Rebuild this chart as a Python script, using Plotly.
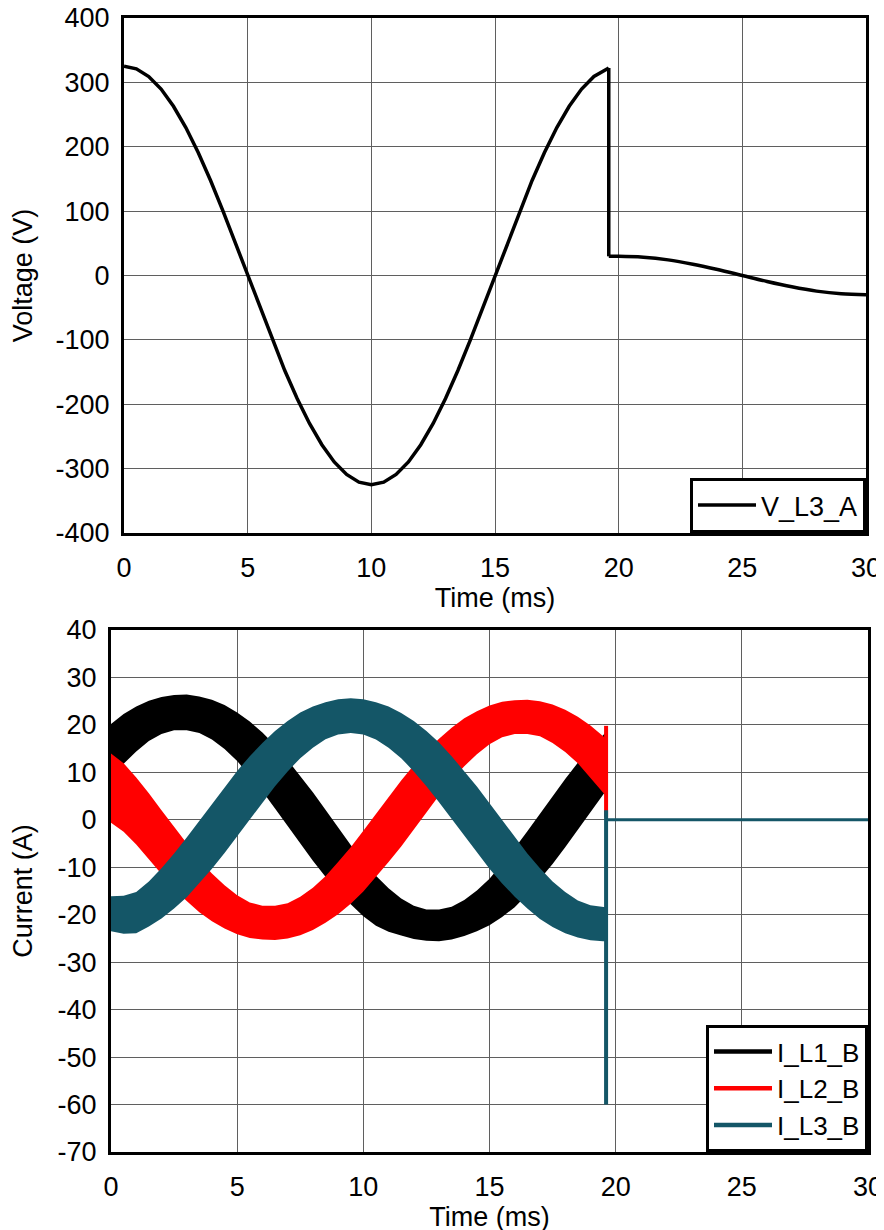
import plotly.graph_objects as go

# ---------------- data ----------------
# Voltage V_L3_A (V) vs time (ms)
v_time_a = [0, 0.5, 1, 1.5, 2, 2.5, 3, 3.5, 4, 4.5, 5, 5.5, 6, 6.5, 7, 7.5, 8, 8.5, 9, 9.5,
            10, 10.5, 11, 11.5, 12, 12.5, 13, 13.5, 14, 14.5, 15, 15.5, 16, 16.5, 17, 17.5,
            18, 18.5, 19, 19.5, 19.6]
v_vals_a = [325, 321.0, 309.1, 289.6, 262.9, 229.8, 191.0, 147.6, 100.4, 50.8, 0, -50.8,
            -100.4, -147.6, -191.0, -229.8, -262.9, -289.6, -309.1, -321.0, -325, -321.0,
            -309.1, -289.6, -262.9, -229.8, -191.0, -147.6, -100.4, -50.8, 0, 50.8, 100.4,
            147.6, 191.0, 229.8, 262.9, 289.6, 309.1, 321.0, 322.4]
v_time_b = [19.6, 20, 21, 22, 23, 24, 25, 26, 27, 28, 29, 30]
v_vals_b = [29.8, 30, 28.5, 24.3, 17.6, 9.3, 0, -9.3, -17.6, -24.3, -28.5, -30]

# Phase currents (A): upper and lower edge of the ripple band
i_time = [0, 0.5, 1, 1.5, 2, 2.5, 3, 3.5, 4, 4.5, 5, 5.5, 6, 6.5, 7, 7.5, 8, 8.5, 9, 9.5,
          10, 10.5, 11, 11.5, 12, 12.5, 13, 13.5, 14, 14.5, 15, 15.5, 16, 16.5, 17, 17.5,
          18, 18.5, 19, 19.5, 19.6]
l1_upper = [20.2, 22.3, 23.9, 25.1, 25.9, 26.3, 26.4, 26.0, 25.3, 24.2, 22.6, 20.7, 18.4, 15.7,
            12.6, 9.3, 5.8, 2.1, -1.6, -5.3, -8.7, -11.8, -14.4, -16.6, -18.1, -18.9, -18.9,
            -18.3, -16.9, -14.9, -12.4, -9.3, -6.0, -2.4, 1.3, 5.0, 8.6, 12.0, 15.1, 17.8, 18.4]
l1_lower = [8.7, 11.8, 14.4, 16.6, 18.1, 18.9, 18.9, 18.3, 16.9, 14.9, 12.4, 9.3, 6.0, 2.4, -1.3,
            -5.0, -8.6, -12.0, -15.1, -17.8, -20.3, -22.3, -23.6, -24.4, -25.1, -25.5, -25.6,
            -25.2, -24.5, -23.5, -22.2, -20.5, -18.4, -15.7, -12.6, -9.3, -5.8, -2.1, 1.6, 5.3, 6.0]
l2_upper = [14.0, 11.9, 8.9, 5.6, 2.0, -1.5, -5.1, -8.4, -11.3, -13.8, -15.9, -17.4, -18.1, -18.1,
            -17.6, -16.2, -14.3, -11.9, -8.9, -5.8, -2.3, 1.2, 4.8, 8.3, 11.5, 14.5, 17.1, 19.4,
            21.4, 22.9, 24.1, 24.9, 25.2, 25.3, 25.0, 24.3, 23.2, 21.7, 19.9, 17.7, 17.2]
l2_lower = [-0.6, -2.5, -5.2, -8.3, -11.5, -14.5, -17.1, -19.5, -21.4, -22.9, -24.1, -24.9, -25.2,
            -25.3, -25.0, -24.3, -23.2, -21.7, -19.9, -17.7, -15.1, -12.1, -8.9, -5.6, -2.0, 1.5,
            5.1, 8.4, 11.3, 13.8, 15.9, 17.4, 18.1, 18.1, 17.6, 16.2, 14.3, 11.9, 8.9, 5.8, 5.1]
l3_upper = [-16.1, -16.0, -15.2, -13.0, -10.2, -7.1, -3.7, -0.2, 3.4, 6.9, 10.3, 13.4, 16.2, 18.7,
            20.8, 22.6, 23.9, 24.8, 25.4, 25.6, 25.4, 24.8, 23.9, 22.5, 20.8, 18.7, 16.3, 13.4,
            10.3, 7.0, 3.5, -0.1, -3.7, -7.1, -10.2, -13.0, -15.2, -17.0, -18.0, -18.3, -18.4]
l3_lower = [-23.5, -24.0, -23.9, -22.5, -20.8, -18.7, -16.3, -13.4, -10.3, -7.0, -3.5, 0.1, 3.7,
            7.1, 10.2, 13.0, 15.2, 17.0, 18.0, 18.3, 18.0, 16.9, 15.2, 13.0, 10.2, 7.1, 3.7, 0.2,
            -3.4, -6.9, -10.3, -13.4, -16.2, -18.7, -20.9, -22.6, -23.9, -24.8, -25.4, -25.6, -25.6]

# switching event at t_cut
t_cut = 19.62
l2_spike = [19.8, 0.5]
l3_spike = [2.0, -60.0]
l3_after_t = [19.62, 30]
l3_after = [0, 0]

names = ["I_L1_B", "I_L2_B", "I_L3_B"]
colors = ["#000000", "#FF0000", "#145667"]

# tick labels
t_ticks = [0, 5, 10, 15, 20, 25, 30]
t_tick_text = ["0", "5", "10", "15", "20", "25", "30"]
v_ticks = [-400, -300, -200, -100, 0, 100, 200, 300, 400]
v_tick_text = ["-400", "-300", "-200", "-100", "0", "100", "200", "300", "400"]
i_ticks = [-70, -60, -50, -40, -30, -20, -10, 0, 10, 20, 30, 40]
i_tick_text = ["-70", "-60", "-50", "-40", "-30", "-20", "-10", "0", "10", "20", "30", "40"]

FONT = "Liberation Sans, Arial, sans-serif"
FS = 27
W, H = 884, 1230
OFF = 8  # page body margin offset


def dx(a, b):
    return [(a - OFF) / W, (b - OFF) / W]


def dy(top, bottom):
    return [1 - (bottom - OFF) / H, 1 - (top - OFF) / H]


fig = go.Figure()

# ---- top: voltage ----
fig.add_trace(go.Scatter(x=v_time_a, y=v_vals_a, mode="lines", name="V_L3_A",
                         line=dict(color="black", width=3.5),
                         xaxis="x", yaxis="y", legend="legend"))
fig.add_trace(go.Scatter(x=[v_time_a[-1], v_time_b[0]], y=[v_vals_a[-1], v_vals_b[0]], mode="lines",
                         line=dict(color="black", width=3.5), showlegend=False,
                         xaxis="x", yaxis="y"))
fig.add_trace(go.Scatter(x=v_time_b, y=v_vals_b, mode="lines",
                         line=dict(color="black", width=3.5, shape="spline"), showlegend=False,
                         xaxis="x", yaxis="y"))

# ---- bottom: currents ----
bands = [(l1_upper, l1_lower), (l2_upper, l2_lower), (l3_upper, l3_lower)]
for (up, lo), c in zip(bands, colors):
    fig.add_trace(go.Scatter(x=i_time, y=up, mode="lines", line=dict(width=0, color=c),
                             showlegend=False, xaxis="x2", yaxis="y2", hoverinfo="skip"))
    fig.add_trace(go.Scatter(x=i_time, y=lo, mode="lines", line=dict(width=0, color=c),
                             fill="tonexty", fillcolor=c, showlegend=False, xaxis="x2", yaxis="y2"))

fig.add_trace(go.Scatter(x=[t_cut, t_cut], y=l2_spike, mode="lines", line=dict(color=colors[1], width=4),
                         showlegend=False, xaxis="x2", yaxis="y2"))
fig.add_trace(go.Scatter(x=[t_cut, t_cut], y=l3_spike, mode="lines", line=dict(color=colors[2], width=4),
                         showlegend=False, xaxis="x2", yaxis="y2"))
fig.add_trace(go.Scatter(x=l3_after_t, y=l3_after, mode="lines", line=dict(color=colors[2], width=3),
                         showlegend=False, xaxis="x2", yaxis="y2"))

# legend entries for the currents
for n, c in zip(names, colors):
    fig.add_trace(go.Scatter(x=[None], y=[None], mode="lines", name=n, line=dict(color=c, width=4.5),
                             xaxis="x2", yaxis="y2", legend="legend2"))

grid = "rgb(95,95,95)"
common = dict(showgrid=True, gridcolor=grid, gridwidth=1.2, zeroline=False, showline=True,
              linecolor="black", linewidth=3, mirror=True, ticks="", layer="above traces",
              ticklabeloverflow="allow",
              tickfont=dict(family=FONT, size=FS, color="black"), automargin=False)

fig.update_layout(
    width=W, height=H,
    margin=dict(l=0, r=0, t=0, b=0),
    paper_bgcolor="white", plot_bgcolor="white",
    font=dict(family=FONT, size=FS, color="black"),
    xaxis=dict(domain=dx(124, 866), anchor="y", range=[0, 30],
               tickvals=t_ticks, ticktext=t_tick_text,
               title=dict(text="Time (ms)", standoff=2, font=dict(family=FONT, size=FS)),
               ticklabelstandoff=9, **common),
    yaxis=dict(domain=dy(18, 533), anchor="x", range=[-400, 400],
               tickvals=v_ticks, ticktext=v_tick_text,
               title=dict(text="Voltage (V)", standoff=19, font=dict(family=FONT, size=FS)),
               ticklabelstandoff=6, **common),
    xaxis2=dict(domain=dx(111, 868), anchor="y2", range=[0, 30],
                tickvals=t_ticks, ticktext=t_tick_text,
                title=dict(text="Time (ms)", standoff=2, font=dict(family=FONT, size=FS)),
                ticklabelstandoff=9, **common),
    yaxis2=dict(domain=dy(630, 1152), anchor="x2", range=[-70, 40],
                tickvals=i_ticks, ticktext=i_tick_text,
                title=dict(text="Current (A)", standoff=19, font=dict(family=FONT, size=FS)),
                ticklabelstandoff=6, **common),
    legend=dict(x=(866 - OFF) / W, xanchor="right", y=1 - (533 - OFF) / H, yanchor="bottom",
                bordercolor="black", borderwidth=3, bgcolor="white",
                font=dict(family=FONT, size=27), itemwidth=58),
    legend2=dict(x=(868 - OFF) / W, xanchor="right", y=1 - (1152 - OFF) / H, yanchor="bottom",
                 bordercolor="black", borderwidth=3, bgcolor="white",
                 font=dict(family=FONT, size=26), itemwidth=58, tracegroupgap=0),
)

fig.write_html("out.html")
